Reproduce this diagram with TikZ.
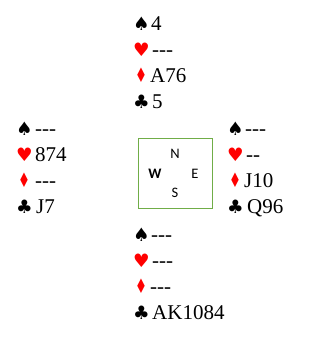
\documentclass[tikz,border=0pt]{standalone}
\usepackage{fontspec}
\newfontfamily\cardfont{Liberation Serif}
\newfontfamily\symfont{DejaVu Sans}
\newfontfamily\dirfont{Carlito}
\definecolor{boxgreen}{RGB}{112,173,71}
\definecolor{suitred}{RGB}{255,0,0}
\tikzset{
  suitsym/.style={inner sep=0pt, anchor=base west, font=\symfont\fontsize{18.5}{22}\selectfont},
  redsuit/.style={suitsym, text=suitred},
  diam/.style={redsuit, xscale=0.72, yscale=1.08, transform shape},
  cardtxt/.style={inner sep=0pt, anchor=base west, font=\cardfont\fontsize{21}{24}\selectfont},
  dirlbl/.style={inner sep=0pt, font=\dirfont\fontsize{14.5}{17}\selectfont},
  compass/.style={draw=boxgreen, line width=0.8pt}
}
\begin{document}
\begin{tikzpicture}[x=1pt,y=-1pt]
\useasboundingbox (0,0) rectangle (332,340);
% North
\node[suitsym] (ns) at (133,30) {♠};  \node[cardtxt] (nst) at (151,30) {4};
\node[redsuit] (nh) at (133,56) {♥};  \node[cardtxt] (nht) at (152,56) {-{}-{}-};
\node[diam] (nd) at (135,82) {♦};  \node[cardtxt] (ndt) at (150,82) {A76};
\node[suitsym] (nc) at (133,108) {♣}; \node[cardtxt] (nct) at (152,108) {5};
% West
\node[suitsym] (ws) at (16,135) {♠};  \node[cardtxt] (wst) at (35,135) {-{}-{}-};
\node[redsuit] (wh) at (16,161) {♥};  \node[cardtxt] (wht) at (35,161) {874};
\node[diam] (wd) at (18,187) {♦};  \node[cardtxt] (wdt) at (35,187) {-{}-{}-};
\node[suitsym] (wc) at (16,213) {♣}; \node[cardtxt] (wct) at (36,213) {J7};
% East
\node[suitsym] (es) at (227,135) {♠};  \node[cardtxt] (est) at (245,135) {-{}-{}-};
\node[redsuit] (eh) at (227,161) {♥};  \node[cardtxt] (eht) at (246,161) {-{}-};
\node[diam] (ed) at (229,187) {♦};  \node[cardtxt] (edt) at (244,187) {J10};
\node[suitsym] (ec) at (227,213) {♣}; \node[cardtxt] (ect) at (247,213) {Q96};
% South
\node[suitsym] (ss) at (133,241) {♠};  \node[cardtxt] (sst) at (151,241) {-{}-{}-};
\node[redsuit] (sh) at (133,267) {♥};  \node[cardtxt] (sht) at (152,267) {-{}-{}-};
\node[diam] (sd) at (135,293) {♦};  \node[cardtxt] (sdt) at (150,293) {-{}-{}-};
\node[suitsym] (sc) at (133,319) {♣}; \node[cardtxt] (sct) at (152,319) {AK1084};
% Compass box
\draw[compass] (138,138) rectangle (212,208);
\node[dirlbl] (dn) at (175,154) {N};
\node[dirlbl, font=\dirfont\bfseries\fontsize{14.5}{17}\selectfont] (dw) at (155,174) {W};
\node[dirlbl] (de) at (195,174) {E};
\node[dirlbl] (ds) at (175,193) {S};
\end{tikzpicture}
\end{document}
